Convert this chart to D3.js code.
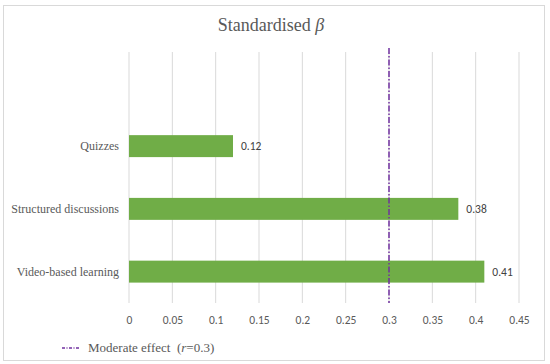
<!DOCTYPE html>
<html><head><meta charset="utf-8">
<script src="https://cdn.jsdelivr.net/npm/d3@7"></script>
<style>body{margin:0;background:#fff}svg{display:block}
.serif{font-family:"Liberation Serif","Times New Roman",Tinos,"DejaVu Serif",serif}
.sans{font-family:Carlito,"Liberation Sans",Arial,sans-serif}
</style>
</head><body>
<svg id="c" width="550" height="364"></svg>
<script>
const categories = ["Quizzes", "Structured discussions", "Video-based learning"];
const values = [0.12, 0.38, 0.41];
const xTicks = [0, 0.05, 0.1, 0.15, 0.2, 0.25, 0.3, 0.35, 0.4, 0.45];
const moderateEffect = 0.3;

const svg = d3.select("#c");

svg.append("rect").attr("x",3.5).attr("y",5.5).attr("width",541).attr("height",355)
  .attr("fill","#fff").attr("stroke","#d9d9d9");

const x = d3.scaleLinear().domain([0,0.45]).range([129,519]);
const y = d3.scaleBand().domain(["", ...categories]).range([52,303])
  .paddingInner(0.65).paddingOuter(0.325);

svg.append("g").selectAll("line").data(xTicks).join("line")
  .attr("x1",d=>x(d)).attr("x2",d=>x(d)).attr("y1",52).attr("y2",303)
  .attr("stroke","#d9d9d9").attr("stroke-width",1);

svg.append("g").selectAll("rect").data(categories).join("rect")
  .attr("x",x(0)).attr("y",d=>y(d)).attr("height",y.bandwidth())
  .attr("width",(d,i)=>x(values[i])-x(0)).attr("fill","#70ad47");

svg.append("g").selectAll("text").data(categories).join("text")
  .attr("class","sans")
  .attr("x",(d,i)=>x(values[i])+8).attr("y",d=>y(d)+y.bandwidth()/2)
  .attr("dy","0.35em").attr("font-size",11.5)
  .attr("fill","#404040").text((d,i)=>values[i]);

svg.append("g").selectAll("text").data(categories).join("text")
  .attr("class","serif")
  .attr("x",119).attr("y",d=>y(d)+y.bandwidth()/2).attr("dy","0.35em")
  .attr("text-anchor","end").attr("font-size",12)
  .attr("fill","#595959").text(d=>d);

const ax = svg.append("g").attr("transform","translate(0,303)")
  .call(d3.axisBottom(x).tickValues(xTicks).tickSize(0).tickPadding(13).tickFormat(d=>String(d)));
ax.select(".domain").remove();
ax.attr("font-family",null);
ax.selectAll("text").attr("class","sans").attr("font-size",11.5).attr("fill","#595959");

svg.append("line").attr("x1",x(moderateEffect)).attr("x2",x(moderateEffect))
  .attr("y1",48).attr("y2",303).attr("stroke","#7030a0").attr("stroke-width",1.5)
  .attr("stroke-dasharray","6,2,1.5,2");

const t = svg.append("text").attr("class","serif").attr("x",271).attr("y",31).attr("text-anchor","middle")
  .attr("font-size",18).attr("fill","#595959");
t.append("tspan").text("Standardised ");
t.append("tspan").attr("font-style","italic").text("β");

svg.append("line").attr("x1",62).attr("x2",80).attr("y1",348).attr("y2",348)
  .attr("stroke","#7030a0").attr("stroke-width",1.5).attr("stroke-dasharray","3,1.5,1,1.5");
const lg = svg.append("text").attr("class","serif").attr("x",88).attr("y",352)
  .attr("font-size",13).attr("fill","#595959").attr("xml:space","preserve").style("white-space","pre");
lg.append("tspan").text("Moderate effect  (");
lg.append("tspan").attr("font-style","italic").text("r");
lg.append("tspan").text("=0.3)");
</script>
</body></html>
